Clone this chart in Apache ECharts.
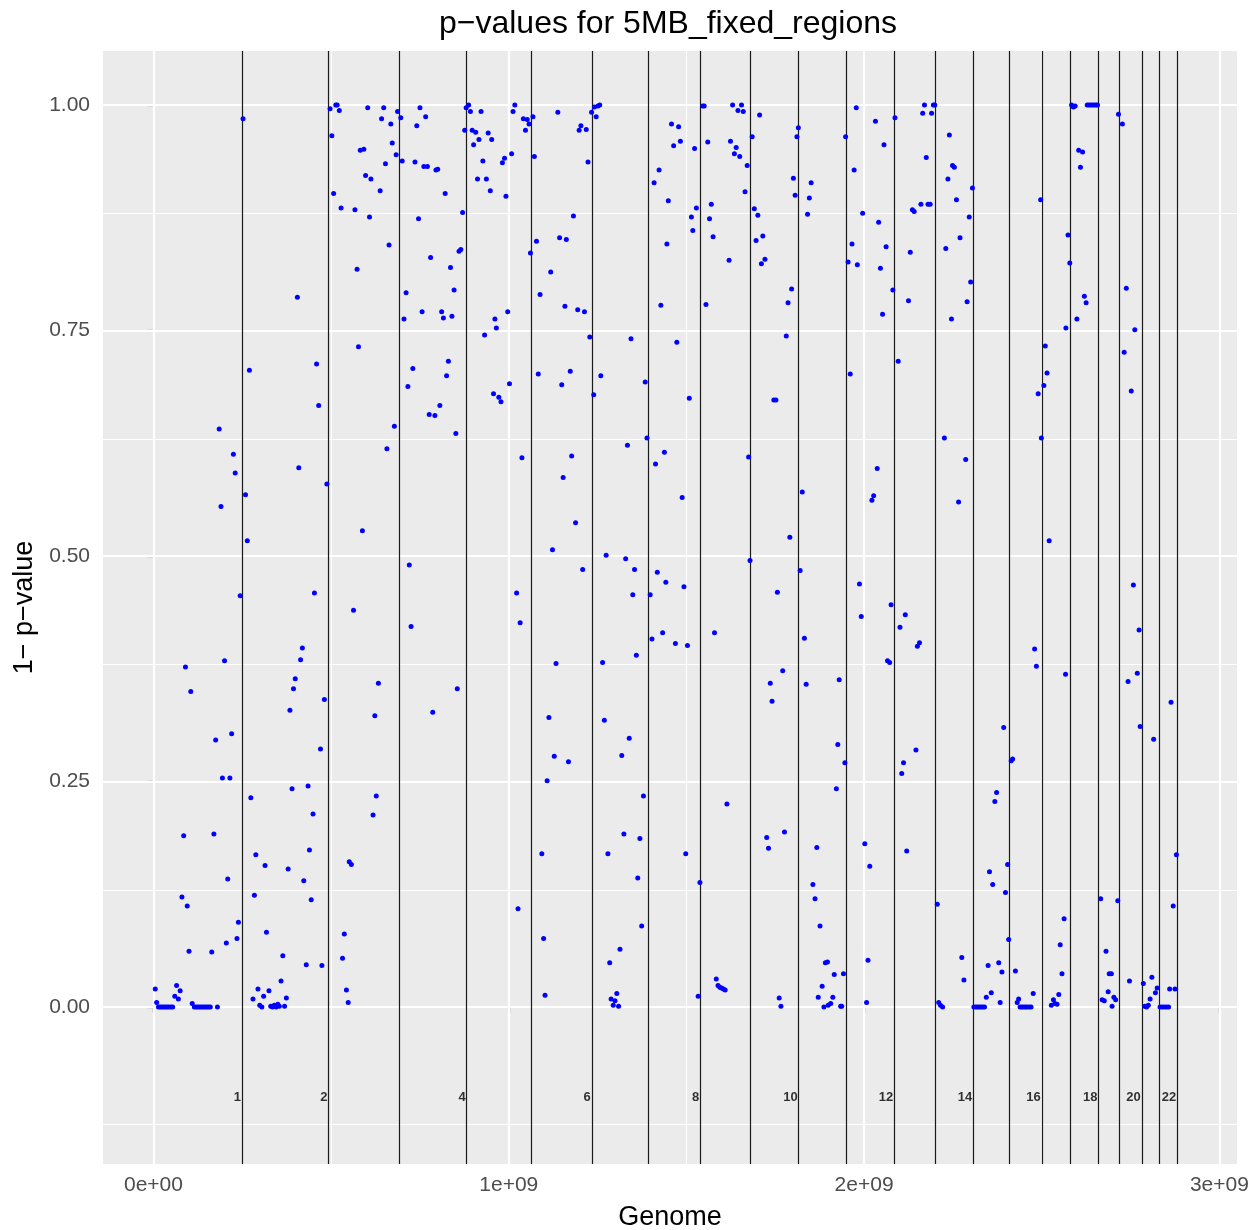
<!DOCTYPE html>
<html>
<head>
<meta charset="utf-8">
<script src="https://cdn.jsdelivr.net/npm/echarts@6/dist/echarts.min.js"></script>
<style>
  html, body { margin: 0; padding: 0; background: #fff; }
  #main { width: 1260px; height: 1230px; }
</style>
</head>
<body>
<div id="main"></div>
<script>
// chromosome ends, cumulative Mb (hg19)
const chromEnds = [249.25, 492.45, 690.47, 881.63, 1062.54, 1233.66, 1392.80, 1539.16, 1680.37, 1815.91,
  1950.91, 2084.77, 2199.94, 2307.29, 2409.82, 2500.17, 2581.37, 2659.45, 2718.58, 2781.60, 2829.73, 2881.04];
const chromLabels = ['1', '2', '', '4', '', '6', '', '8', '', '10', '', '12', '', '14', '', '16', '', '18', '', '20', '', '22'];

const xTicks = [0, 1e9, 2e9, 3e9];
const xMinor = [0.5e9, 1.5e9, 2.5e9];
const yTicks = [0, 0.25, 0.5, 0.75, 1];
const yMinor = [-0.125, 0.125, 0.375, 0.625, 0.875];

// [position Mb, 1 - p-value] per chromosome
const chr1 = [[5,0.020],[9,0.005],[14,0],[19,0],[24,0],[29,0],[34,0],[39,0],[44,0],[49,0],[54,0],[60,0.012],[65,0.024],[70,0.009],[75,0.018],[80,0.122],[85,0.190],[90,0.377],[95,0.112],[100,0.062],[105,0.350],[109,0.004],[115,0],[120,0],[125,0],[130,0],[135,0],[140,0],[145,0],[150,0],[155,0],[160,0],[164,0.061],[170,0.192],[175,0.296],[180,0],[185,0.641],[190,0.555],[194,0.254],[200,0.384],[205,0.071],[209,0.142],[215,0.254],[220,0.303],[225,0.613],[230,0.592],[235,0.076],[239,0.094],[244,0.456]];
const chr2 = [[252,0.985],[259,0.568],[264,0.517],[270,0.706],[274,0.232],[280,0.009],[284,0.124],[288,0.169],[294,0.020],[299,0.002],[305,0],[310,0.012],[314,0.157],[318,0.083],[325,0.018],[330,0.001],[335,0],[340,0.002],[345,0],[350,0.003],[354,0.001],[359,0.029],[364,0.057],[369,0.001],[374,0.010],[379,0.153],[384,0.329],[390,0.242],[394,0.353],[399,0.364],[405,0.787],[409,0.598],[414,0.385],[419,0.398],[423,0.140],[430,0.047],[435,0.245],[439,0.174],[444,0.119],[449,0.214],[453,0.459],[459,0.713],[465,0.667],[470,0.286],[474,0.046],[481,0.341],[488,0.580]];
const chr3 = [[497,0.996],[502,0.966],[507,0.902],[513,1.0],[517,1.0],[523,0.994],[528,0.886],[532,0.054],[537,0.081],[543,0.019],[548,0.005],[551,0.161],[557,0.158],[563,0.440],[567,0.884],[573,0.818],[577,0.732],[582,0.950],[588,0.528],[592,0.951],[597,0.922],[603,0.997],[608,0.876],[612,0.918],[618,0.213],[623,0.323],[627,0.234],[633,0.359],[638,0.905],[642,0.985],[648,0.997],[653,0.935],[657,0.619],[663,0.845],[668,0.979],[672,0.958],[678,0.644],[683,0.945],[687,0.993]];
const chr4 = [[696,0.986],[700,0.938],[705,0.763],[711,0.792],[716,0.688],[720,0.490],[725,0.422],[730,0.708],[736,0.937],[741,0.977],[746,0.874],[750,0.997],[756,0.771],[761,0.932],[766,0.987],[771,0.932],[776,0.657],[780,0.831],[786,0.327],[792,0.656],[795,0.928],[800,0.929],[806,0.667],[811,0.771],[816,0.764],[821,0.902],[825,0.700],[830,0.716],[836,0.820],[840,0.766],[846,0.795],[851,0.636],[855,0.353],[860,0.838],[865,0.840],[870,0.881],[876,0.972],[880,0.997]];
const chr5 = [[887,1.0],[892,0.993],[897,0.972],[901,0.956],[907,0.970],[912,0.918],[916,0.962],[922,0.993],[927,0.938],[932,0.745],[937,0.918],[942,0.969],[948,0.905],[952,0.962],[957,0.680],[961,0.763],[965,0.753],[972,0.676],[978,0.671],[982,0.936],[988,0.941],[992,0.899],[997,0.771],[1002,0.691],[1008,0.946],[1012,0.993],[1017,1.0],[1022,0.459],[1026,0.109],[1032,0.426],[1037,0.609],[1041,0.985],[1047,0.972],[1052,0.984],[1057,0.979],[1061,0.836]];
const chr6 = [[1068,0.987],[1072,0.943],[1078,0.849],[1083,0.702],[1088,0.790],[1093,0.170],[1098,0.076],[1102,0.013],[1108,0.251],[1113,0.321],[1118,0.815],[1123,0.507],[1128,0.278],[1133,0.381],[1138,0.992],[1143,0.853],[1149,0.690],[1153,0.587],[1158,0.777],[1162,0.851],[1168,0.272],[1173,0.705],[1177,0.611],[1182,0.877],[1188,0.537],[1194,0.773],[1198,0.972],[1203,0.977],[1208,0.485],[1213,0.771],[1218,0.973],[1223,0.937],[1228,0.743],[1233,0.992]];
const chr7 = [[1239,0.679],[1241,0.998],[1246,0.987],[1251,0.999],[1256,1.0],[1259,0.700],[1264,0.382],[1269,0.318],[1274,0.501],[1279,0.170],[1284,0.049],[1288,0.009],[1294,0.002],[1299,0.007],[1304,0.015],[1309,0.001],[1313,0.064],[1318,0.279],[1324,0.192],[1329,0.497],[1334,0.623],[1339,0.298],[1344,0.741],[1349,0.457],[1354,0.485],[1359,0.390],[1363,0.143],[1369,0.187],[1374,0.090],[1379,0.234],[1384,0.693],[1389,0.631]];
const chr8 = [[1398,0.457],[1403,0.408],[1409,0.914],[1413,0.602],[1418,0.482],[1423,0.928],[1428,0.778],[1433,0.415],[1438,0.615],[1442,0.471],[1445,0.846],[1449,0.894],[1458,0.979],[1464,0.955],[1469,0.403],[1473,0.737],[1478,0.976],[1483,0.960],[1488,0.565],[1493,0.466],[1498,0.170],[1503,0.401],[1508,0.675],[1514,0.876],[1518,0.861],[1523,0.952],[1528,0.886],[1533,0.012],[1538,0.138]];
const chr9 = [[1546,0.999],[1550,0.999],[1555,0.779],[1560,0.959],[1565,0.874],[1570,0.890],[1575,0.854],[1579,0.415],[1584,0.031],[1589,0.024],[1594,0.022],[1599,0.021],[1604,0.020],[1609,0.019],[1614,0.225],[1620,0.828],[1624,0.960],[1630,1.0],[1635,0.946],[1640,0.953],[1645,0.994],[1650,0.943],[1655,1.0],[1660,0.993],[1665,0.904],[1671,0.933],[1675,0.610],[1679,0.495]];
const chr10 = [[1685,0.965],[1691,0.885],[1696,0.850],[1701,0.878],[1706,0.989],[1711,0.824],[1715,0.855],[1721,0.829],[1726,0.188],[1731,0.176],[1736,0.359],[1741,0.339],[1746,0.673],[1752,0.673],[1756,0.460],[1761,0.010],[1766,0.001],[1771,0.373],[1776,0.194],[1781,0.744],[1786,0.781],[1791,0.521],[1796,0.796],[1801,0.919],[1806,0.900],[1811,0.965],[1815,0.975]];
const chr11 = [[1820,0.484],[1826,0.571],[1832,0.409],[1837,0.358],[1841,0.879],[1846,0.897],[1851,0.914],[1856,0.136],[1862,0.120],[1867,0.177],[1871,0.011],[1876,0.090],[1882,0.023],[1887,0],[1891,0.049],[1897,0.050],[1899,0.002],[1906,0.004],[1912,0.011],[1916,0.036],[1922,0.242],[1926,0.291],[1930,0.363],[1934,0.001],[1937,0.001],[1942,0.037],[1946,0.271],[1948,0.965]];
const chr12 = [[1955,0.826],[1961,0.702],[1966,0.846],[1972,0.928],[1978,0.997],[1981,0.823],[1987,0.469],[1992,0.433],[1996,0.880],[2002,0.181],[2007,0.005],[2011,0.052],[2016,0.156],[2022,0.562],[2027,0.567],[2032,0.982],[2037,0.597],[2041,0.870],[2046,0.819],[2052,0.768],[2056,0.956],[2062,0.843],[2066,0.384],[2072,0.382],[2076,0.446],[2081,0.795]];
const chr13 = [[2087,0.986],[2096,0.716],[2101,0.421],[2106,0.259],[2111,0.271],[2116,0.435],[2120,0.173],[2125,0.783],[2130,0.837],[2136,0.884],[2141,0.882],[2146,0.285],[2150,0.400],[2156,0.404],[2160,0.890],[2165,0.991],[2170,1.0],[2175,0.942],[2180,0.890],[2186,0.890],[2190,0.991],[2195,1.0],[2199,1.0]];
const chr14 = [[2206,0.114],[2210,0.005],[2215,0.002],[2221,0],[2226,0.631],[2230,0.841],[2236,0.918],[2240,0.967],[2246,0.763],[2249,0.933],[2254,0.931],[2260,0.895],[2266,0.560],[2270,0.853],[2275,0.055],[2281,0.030],[2286,0.607],[2290,0.782],[2296,0.876],[2300,0.804],[2305,0.908]];
const chr15 = [[2309,0],[2314,0],[2319,0],[2324,0],[2329,0],[2334,0],[2339,0],[2344,0.011],[2349,0.046],[2353,0.150],[2358,0.016],[2362,0.136],[2368,0.228],[2373,0.238],[2379,0.049],[2383,0.005],[2388,0.039],[2393,0.310],[2398,0.127],[2404,0.158],[2407,0.075]];
const chr16 = [[2414,0.273],[2418,0.275],[2426,0.040],[2431,0.005],[2435,0.009],[2439,0],[2444,0],[2449,0],[2454,0],[2459,0],[2465,0],[2470,0],[2476,0.015],[2480,0.397],[2485,0.378],[2490,0.680],[2497,0.895],[2499,0.631]];
const chr17 = [[2506,0.689],[2510,0.733],[2515,0.703],[2521,0.517],[2527,0.002],[2533,0.008],[2537,0.004],[2543,0.003],[2548,0.014],[2552,0.069],[2557,0.037],[2563,0.098],[2567,0.369],[2568,0.753],[2574,0.856],[2579,0.825]];
const chr18 = [[2584,1.0],[2589,0.998],[2594,0.999],[2599,0.763],[2604,0.950],[2609,0.931],[2615,0.948],[2620,0.788],[2625,0.781],[2628,1.0],[2633,1.0],[2638,1.0],[2643,1.0],[2648,1.0],[2653,1.0],[2657,1.0]];
const chr19 = [[2666,0.120],[2670,0.008],[2676,0.007],[2681,0.062],[2687,0.017],[2690,0.037],[2696,0.037],[2698,0.001],[2703,0.011],[2708,0.008],[2714,0.118],[2716,0.990]];
const chr20 = [[2727,0.979],[2732,0.726],[2738,0.797],[2743,0.361],[2747,0.029],[2752,0.683],[2758,0.468],[2762,0.751],[2769,0.370],[2774,0.418],[2777,0.311]];
const chr21 = [[2786,0.026],[2790,0.001],[2795,0],[2800,0.002],[2805,0.009],[2810,0.033],[2815,0.297],[2820,0.016],[2825,0.021]];
const chr22 = [[2833,0],[2839,0],[2845,0],[2851,0],[2857,0],[2860,0.020],[2864,0.338],[2870,0.112],[2875,0.020],[2879,0.169]];

const allChroms = [chr1, chr2, chr3, chr4, chr5, chr6, chr7, chr8, chr9, chr10, chr11,
  chr12, chr13, chr14, chr15, chr16, chr17, chr18, chr19, chr20, chr21, chr22];
const labelY = -0.1;

const points = [];
allChroms.forEach(c => c.forEach(p => points.push([p[0] * 1e6, p[1]])));
const labelData = [];
chromEnds.forEach((e, i) => { if (chromLabels[i]) labelData.push([e * 1e6, labelY, chromLabels[i]]); });

const font = 'Liberation Sans, Arial, Helvetica, sans-serif';
const myChart = echarts.init(document.getElementById('main'));

const gridLine = (w) => ({ color: '#ffffff', width: w, type: 'solid' });

myChart.setOption({
  animation: false,
  title: {
    text: 'p\u2212values for 5MB_fixed_regions',
    left: 663,
    top: 3,
    textAlign: 'center',
    textStyle: { fontFamily: font, fontSize: 32, fontWeight: 'normal', color: '#000' }
  },
  grid: {
    left: 103, right: 23, top: 51, bottom: 66,
    outerBoundsMode: 'none',
    containLabel: false,
    show: true, backgroundColor: '#EBEBEB', borderWidth: 0
  },
  xAxis: {
    type: 'value',
    min: -1.421e8,
    max: 3.0496e9,
    splitLine: { show: false },
    axisLine: { show: false },
    axisTick: { show: true, customValues: xTicks, length: 6, lineStyle: { color: '#333', width: 1.2 } },
    axisLabel: {
      customValues: xTicks, margin: 11, fontSize: 21, color: '#4D4D4D', fontFamily: font,
      formatter: v => v === 0 ? '0e+00' : Math.round(v / 1e9) + 'e+09'
    },
    name: 'Genome', nameLocation: 'middle', nameGap: 40,
    nameTextStyle: { fontSize: 27, color: '#000', fontFamily: font }
  },
  yAxis: {
    type: 'value',
    min: -0.174,
    max: 1.06,
    splitLine: { show: false },
    axisLine: { show: false },
    axisTick: { show: true, customValues: yTicks, length: 6, lineStyle: { color: '#333', width: 1.2 } },
    axisLabel: {
      customValues: yTicks, margin: 13, fontSize: 21, color: '#4D4D4D', fontFamily: font,
      formatter: v => v.toFixed(2)
    },
    name: '1\u2212 p\u2212value', nameLocation: 'middle', nameGap: 57, nameRotate: 90,
    nameTextStyle: { fontSize: 27, color: '#000', fontFamily: font }
  },
  series: [
    {
      // panel grid lines
      type: 'scatter', data: [], silent: true, z: 1,
      markLine: {
        silent: true, symbol: ['none', 'none'], label: { show: false }, animation: false, z: 1,
        data: [
          ...yMinor.map(v => ({ yAxis: v, lineStyle: gridLine(1.1) })),
          ...xMinor.map(v => ({ xAxis: v, lineStyle: gridLine(1.1) })),
          ...yTicks.map(v => ({ yAxis: v, lineStyle: gridLine(2.2) })),
          ...xTicks.map(v => ({ xAxis: v, lineStyle: gridLine(2.2) }))
        ]
      }
    },
    {
      // chromosome boundaries
      type: 'scatter', data: [], silent: true, z: 2,
      markLine: {
        silent: true, symbol: ['none', 'none'], label: { show: false }, animation: false, z: 2,
        lineStyle: { color: '#1a1a1a', width: 1.2, type: 'solid' },
        data: chromEnds.map(e => ({ xAxis: e * 1e6 }))
      }
    },
    {
      type: 'scatter', data: labelData, symbolSize: 0, silent: true, z: 3,
      label: {
        show: true, position: 'left', distance: 1,
        formatter: p => p.data[2],
        fontSize: 13, fontWeight: 'bold', color: '#000', fontFamily: font
      }
    },
    {
      type: 'scatter', data: points, symbolSize: 5, z: 4,
      itemStyle: { color: '#0000FF', opacity: 1 }
    }
  ]
});
</script>
</body>
</html>
